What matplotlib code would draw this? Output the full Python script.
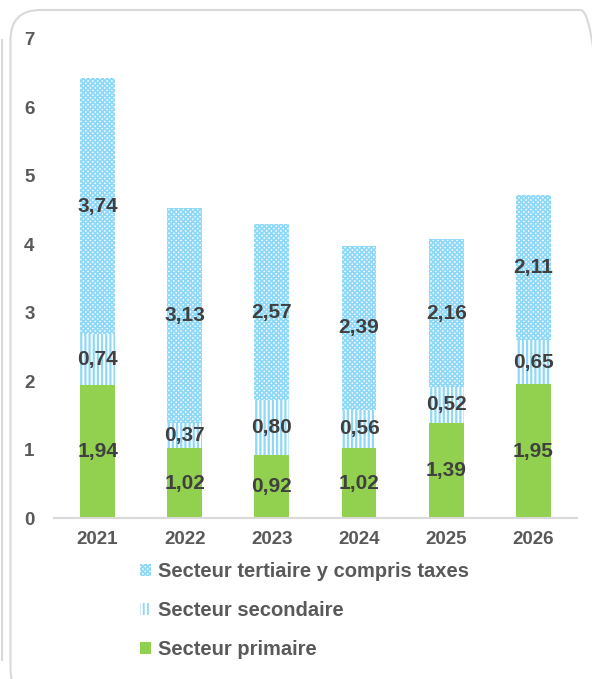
import matplotlib
matplotlib.use("Agg")
import matplotlib.pyplot as plt
from matplotlib.patches import FancyBboxPatch
from matplotlib.lines import Line2D
from matplotlib.transforms import IdentityTransform

plt.rcParams['font.family'] = ['Liberation Sans', 'DejaVu Sans']

years = ['2021', '2022', '2023', '2024', '2025', '2026']
primaire = [1.94, 1.02, 0.92, 1.02, 1.39, 1.95]
secondaire = [0.74, 0.37, 0.80, 0.56, 0.52, 0.65]
tertiaire = [3.74, 3.13, 2.57, 2.39, 2.16, 2.11]

green = '#92d050'
blue = '#8fd8f7'
label_col = '#404040'
tick_col = '#595959'

fig = plt.figure(figsize=(5.92, 6.79), dpi=100)
ax = fig.add_axes([0.0912, 0.2371, 0.8834, 0.7062])

x = range(len(years))
w = 0.40
b1 = ax.bar(x, primaire, w, color=green, linewidth=0)
bottom2 = primaire
plt.rcParams['hatch.linewidth'] = 1.6
b2 = ax.bar(x, secondaire, w, bottom=bottom2, facecolor='white',
            edgecolor=blue, linewidth=0, hatch='||||')
bottom3 = [p + s for p, s in zip(primaire, secondaire)]
plt.rcParams['hatch.linewidth'] = 1.3
b3 = ax.bar(x, tertiaire, w, bottom=bottom3, facecolor='white',
            edgecolor=blue, linewidth=0, hatch='xxxxxxx')

# value labels centred in each segment
for bars, vals, bots in [(b1, primaire, [0] * 6), (b2, secondaire, bottom2),
                         (b3, tertiaire, bottom3)]:
    for i, (v, b) in enumerate(zip(vals, bots)):
        ax.text(i, b + v / 2, f'{v:.2f}'.replace('.', ','), ha='center',
                va='center', fontsize=15, fontweight='bold', color=label_col)

ax.set_xlim(-0.5, 5.5)
ax.set_ylim(0, 7)
ax.set_xticks(list(x))
ax.set_xticklabels(years)
ax.set_yticks(range(8))
ax.tick_params(axis='both', length=0, labelsize=13.5, colors=tick_col)
ax.tick_params(axis='x', pad=9)
ax.tick_params(axis='y', pad=14)
for lbl in ax.get_xticklabels() + ax.get_yticklabels():
    lbl.set_fontweight('bold')
for s in ['top', 'right', 'left']:
    ax.spines[s].set_visible(False)
ax.spines['bottom'].set_color('#d9d9d9')
ax.spines['bottom'].set_linewidth(1.5)

leg = fig.legend([b3, b2, b1],
                 ['Secteur tertiaire y compris taxes', 'Secteur secondaire',
                  'Secteur primaire'],
                 loc='upper left', bbox_to_anchor=(0.22, 0.187),
                 frameon=False, handlelength=0.55, handleheight=0.55,
                 handletextpad=0.35, labelspacing=1.0, borderpad=0,
                 prop={'size': 14.5, 'weight': 'bold'})
for t in leg.get_texts():
    t.set_color(tick_col)

# rounded frame around the chart and the neighbouring panel edge
frame = FancyBboxPatch((10.5, -20), 600, 689,
                       boxstyle='round,pad=0,rounding_size=30',
                       transform=IdentityTransform(), fill=False,
                       edgecolor='#d9d9d9', linewidth=1.5)
fig.patches.append(frame)
fig.lines.append(Line2D([1.5, 1.5], [679 - 40, 679 - 660],
                        transform=IdentityTransform(), color='#d9d9d9',
                        linewidth=1.5))

fig.savefig('out.png', dpi=100)
